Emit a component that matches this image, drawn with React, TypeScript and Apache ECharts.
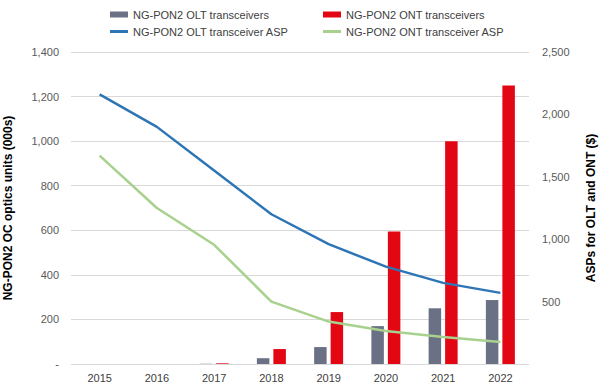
import React, { useEffect, useRef } from "react";
import * as echarts from "echarts";

const years = ["2015", "2016", "2017", "2018", "2019", "2020", "2021", "2022"];
const oltUnits = [0, 0, 1, 26, 76, 170, 250, 287];
const ontUnits = [0, 0, 3, 67, 233, 595, 1000, 1250];
const oltAsp = [2160, 1900, 1550, 1200, 960, 780, 650, 570];
const ontAsp = [1670, 1250, 955, 500, 340, 265, 216, 176];

const names = [
  "NG-PON2 OLT transceivers",
  "NG-PON2 ONT transceivers",
  "NG-PON2 OLT transceiver ASP",
  "NG-PON2 ONT transceiver ASP",
];
const colors = ["#6b7185", "#e30613", "#2e75b6", "#a9d18e"];

const FONT = "Liberation Sans, Arial, sans-serif";

function fmt(v: number) {
  return v.toLocaleString("en-US");
}

export default function App() {
  const ref = useRef<HTMLDivElement>(null);
  useEffect(() => {
    const chart = echarts.init(ref.current!, null, { renderer: "svg" });
    const legendBase = {
      orient: "horizontal",
      itemWidth: 18,
      textStyle: { fontFamily: FONT, fontSize: 11, color: "#404040" },
      padding: 0,
    };
    chart.setOption({
      animation: false,
      textStyle: { fontFamily: FONT },
      legend: [
        { ...legendBase, left: 110, top: 9, itemHeight: 6, icon: "rect", data: [names[0]] },
        { ...legendBase, left: 323, top: 9, itemHeight: 6, icon: "rect", data: [names[1]] },
        { ...legendBase, left: 110, top: 26, itemHeight: 3, icon: "rect", data: [names[2]] },
        { ...legendBase, left: 323, top: 26, itemHeight: 3, icon: "rect", data: [names[3]] },
      ],
      grid: {
        left: 71,
        right: 71,
        top: 52,
        bottom: 26,
        containLabel: false,
        outerBoundsMode: "none",
      },
      xAxis: {
        type: "category",
        data: years,
        axisLine: { show: false },
        axisTick: { show: false },
        axisLabel: { color: "#404040", fontSize: 11, margin: 8, fontFamily: FONT },
      },
      yAxis: [
        {
          type: "value",
          min: 0,
          max: 1400,
          interval: 200,
          name: "NG-PON2 OC optics units (000s)",
          nameLocation: "middle",
          nameGap: 57,
          nameMoveOverlap: false,
          nameTextStyle: { fontWeight: "bold", fontSize: 12, color: "#000", fontFamily: FONT },
          axisLabel: {
            color: "#595959",
            fontSize: 11,
            margin: 12,
            fontFamily: FONT,
            formatter: (v: number) => (v === 0 ? "-" : fmt(v)),
          },
          splitLine: { lineStyle: { color: "#d9d9d9" } },
          axisLine: { show: false },
          axisTick: { show: false },
        },
        {
          type: "value",
          min: 0,
          max: 2500,
          interval: 500,
          name: "ASPs for OLT and ONT ($)",
          nameLocation: "middle",
          nameGap: 56,
          nameMoveOverlap: false,
          nameRotate: 90,
          nameTextStyle: { fontWeight: "bold", fontSize: 12, color: "#000", fontFamily: FONT },
          axisLabel: {
            color: "#595959",
            fontSize: 11,
            margin: 13,
            fontFamily: FONT,
            formatter: (v: number) => (v === 0 ? "" : fmt(v)),
          },
          splitLine: { show: false },
          axisLine: { show: false },
          axisTick: { show: false },
        },
      ],
      series: [
        {
          name: names[0],
          type: "bar",
          data: oltUnits,
          barWidth: 12.5,
          barGap: "32%",
          itemStyle: { color: colors[0] },
        },
        {
          name: names[1],
          type: "bar",
          data: ontUnits,
          barWidth: 12.5,
          barGap: "32%",
          itemStyle: { color: colors[1] },
        },
        {
          name: names[2],
          type: "line",
          yAxisIndex: 1,
          data: oltAsp,
          symbol: "none",
          lineStyle: { color: colors[2], width: 2.5 },
          itemStyle: { color: colors[2] },
        },
        {
          name: names[3],
          type: "line",
          yAxisIndex: 1,
          data: ontAsp,
          symbol: "none",
          lineStyle: { color: colors[3], width: 2.5 },
          itemStyle: { color: colors[3] },
        },
      ],
    });
    return () => chart.dispose();
  }, []);
  return (
    <div
      ref={ref}
      style={{ position: "fixed", left: 0, top: 0, width: 600, height: 390, background: "#fff" }}
    />
  );
}
